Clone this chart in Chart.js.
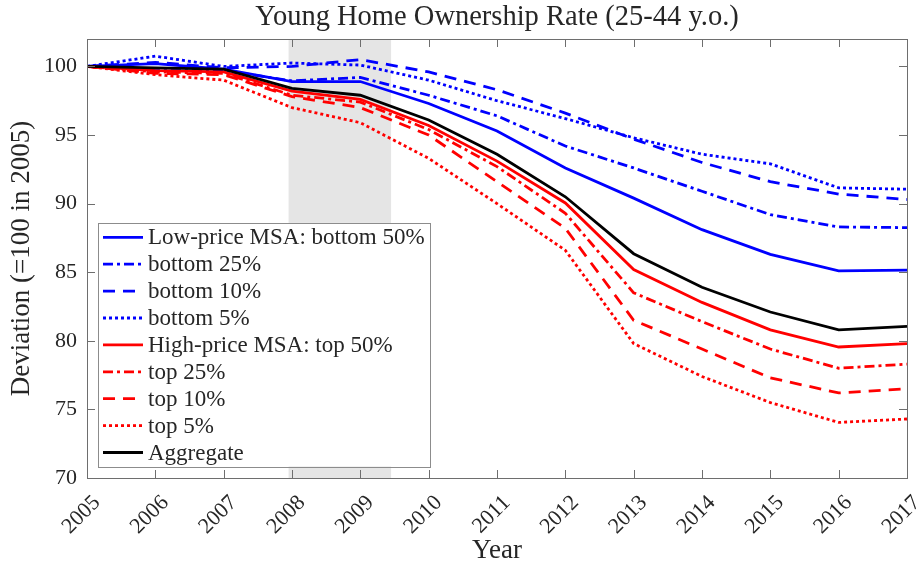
<!DOCTYPE html>
<html>
<head>
<meta charset="utf-8">
<script src="https://cdn.jsdelivr.net/npm/chart.js@4.4.1/dist/chart.umd.min.js"></script>
<style>
  html, body { margin: 0; padding: 0; background: #fff; }
</style>
</head>
<body>
<canvas id="myChart" width="920" height="569"></canvas>
<script>
const years = [2005, 2006, 2007, 2008, 2009, 2010, 2011, 2012, 2013, 2014, 2015, 2016, 2017];
const yTicks = [70, 75, 80, 85, 90, 95, 100];

const bottom50 = [100, 100.2, 99.8, 98.9, 98.9, 97.3, 95.3, 92.6, 90.4, 88.1, 86.3, 85.1, 85.15];
const bottom25 = [100, 99.7, 99.7, 98.95, 99.2, 97.9, 96.4, 94.2, 92.6, 90.9, 89.2, 88.3, 88.25];
const bottom10 = [100, 100.3, 99.9, 100.0, 100.5, 99.6, 98.3, 96.6, 94.7, 93.0, 91.6, 90.7, 90.3];
const bottom5 = [100, 100.75, 100.0, 100.25, 100.1, 99.0, 97.5, 96.2, 94.8, 93.6, 92.9, 91.15, 91.05];
const top50 = [100, 99.7, 99.6, 98.2, 97.6, 95.7, 93.1, 90.05, 85.2, 82.8, 80.8, 79.55, 79.8];
const top25 = [100, 99.6, 99.5, 97.9, 97.4, 95.4, 92.7, 89.3, 83.5, 81.4, 79.4, 78.0, 78.3];
const top10 = [100, 99.5, 99.4, 97.8, 97.0, 95.0, 91.6, 88.2, 81.5, 79.4, 77.3, 76.2, 76.5];
const top5 = [100, 99.4, 99.0, 97.0, 95.9, 93.3, 90.0, 86.6, 79.8, 77.4, 75.5, 74.05, 74.3];
const aggregate = [100, 99.9, 99.8, 98.4, 97.9, 96.1, 93.6, 90.5, 86.35, 83.9, 82.1, 80.8, 81.05];

// recession shading (Dec 2007 - Jun 2009)
const recession = [2007.95, 2009.45];

const FONT = "'Liberation Serif', 'DejaVu Serif', serif";
const TXT = "#262626";
const AX = "#6e6e6e";

const BLUE = "rgb(0, 0, 255)";
const RED = "rgb(255, 0, 0)";
const SOLID = [];
const DASHDOT = [10, 4, 3, 4];
const DASHED = [12, 8];
const DOTTED = [3, 3];

const series = [
  { label: "Low-price MSA: bottom 50%", values: bottom50, color: BLUE, dash: SOLID },
  { label: "bottom 25%", values: bottom25, color: BLUE, dash: DASHDOT },
  { label: "bottom 10%", values: bottom10, color: BLUE, dash: DASHED },
  { label: "bottom 5%", values: bottom5, color: BLUE, dash: DOTTED },
  { label: "High-price MSA: top 50%", values: top50, color: RED, dash: SOLID },
  { label: "top 25%", values: top25, color: RED, dash: DASHDOT },
  { label: "top 10%", values: top10, color: RED, dash: DASHED },
  { label: "top 5%", values: top5, color: RED, dash: DOTTED },
  { label: "Aggregate", values: aggregate, color: "#000", dash: SOLID },
];

const datasets = series.map((s, i) => ({
  label: s.label,
  data: s.values.map((v, j) => ({ x: years[j], y: v })),
  borderColor: s.color,
  backgroundColor: s.color,
  borderDash: s.dash,
  borderWidth: 2.8,
  pointRadius: 0,
  tension: 0,
  order: series.length - i,
}));

const shade = {
  id: "shade",
  beforeDatasetsDraw(chart) {
    const { ctx, chartArea, scales } = chart;
    const x0 = scales.x.getPixelForValue(recession[0]);
    const x1 = scales.x.getPixelForValue(recession[1]);
    ctx.save();
    ctx.fillStyle = "#e5e5e5";
    ctx.fillRect(x0, chartArea.top, x1 - x0, chartArea.bottom - chartArea.top);
    ctx.restore();
  },
};

const frame = {
  id: "frame",
  afterDatasetsDraw(chart) {
    const { ctx, chartArea: a, scales } = chart;
    ctx.save();
    ctx.strokeStyle = AX;
    ctx.lineWidth = 1;
    ctx.beginPath();
    years.forEach((yr) => {
      const x = Math.round(scales.x.getPixelForValue(yr)) + 0.5;
      ctx.moveTo(x, a.bottom); ctx.lineTo(x, a.bottom - 8);
      ctx.moveTo(x, a.top); ctx.lineTo(x, a.top + 8);
    });
    yTicks.forEach((v) => {
      const y = Math.round(scales.y.getPixelForValue(v)) + 0.5;
      ctx.moveTo(a.left, y); ctx.lineTo(a.left + 8, y);
      ctx.moveTo(a.right, y); ctx.lineTo(a.right - 8, y);
    });
    ctx.stroke();
    ctx.strokeRect(Math.round(a.left) + 0.5, Math.round(a.top) + 0.5,
      Math.round(a.right - a.left), Math.round(a.bottom - a.top));

    // legend box
    ctx.font = "23px " + FONT;
    const rowH = 26.9;
    const bx = a.left + 11;
    const bh = rowH * series.length + 1.5;
    const by = a.bottom - 11.5 - bh;
    let tw = 0;
    series.forEach((s) => { tw = Math.max(tw, ctx.measureText(s.label).width); });
    const bw = 50 + tw + 5;
    ctx.fillStyle = "#fff";
    ctx.fillRect(bx, by, bw, bh);
    ctx.strokeStyle = "#8c8c8c";
    ctx.strokeRect(Math.round(bx) + 0.5, Math.round(by) + 0.5, Math.round(bw), Math.round(bh));
    series.forEach((s, i) => {
      const cy = by + 14.4 + i * rowH;
      ctx.strokeStyle = s.color;
      ctx.lineWidth = 2.8;
      ctx.setLineDash(s.dash);
      ctx.beginPath();
      ctx.moveTo(bx + 5, cy);
      ctx.lineTo(bx + 45, cy);
      ctx.stroke();
      ctx.setLineDash([]);
      ctx.fillStyle = TXT;
      ctx.textAlign = "left";
      ctx.textBaseline = "middle";
      ctx.fillText(s.label, bx + 50, cy + 1);
    });

    // title over the plot area
    ctx.font = "28.5px " + FONT;
    ctx.fillStyle = TXT;
    ctx.textAlign = "center";
    ctx.textBaseline = "middle";
    ctx.fillText("Young Home Ownership Rate (25-44 y.o.)", (a.left + a.right) / 2, 18);
    ctx.restore();
  },
};

const config = {
  type: "line",
  data: { datasets: datasets },
  options: {
    responsive: false,
    animation: false,
    layout: { padding: { top: 39, right: 13, left: 0, bottom: 2 } },
    plugins: { legend: { display: false }, tooltip: { enabled: false } },
    scales: {
      x: {
        type: "linear",
        min: 2005,
        max: 2017,
        grid: { display: false },
        border: { display: false },
        afterBuildTicks: (scale) => { scale.ticks = years.map((v) => ({ value: v })); },
        afterFit: (scale) => {
          scale.height = 89;
          scale.paddingLeft = 0;
          scale.paddingRight = 0;
        },
        ticks: {
          color: TXT,
          font: { family: FONT, size: 22 },
          minRotation: 45,
          maxRotation: 45,
          padding: 4,
          labelOffset: 10,
          callback: (v) => String(v),
        },
        title: {
          display: true,
          text: "Year",
          color: TXT,
          font: { family: FONT, size: 27 },
          padding: 0,
        },
      },
      y: {
        min: 70,
        max: 102,
        grid: { display: false },
        border: { display: false },
        afterBuildTicks: (scale) => { scale.ticks = yTicks.map((v) => ({ value: v })); },
        afterFit: (scale) => { scale.width = 87; },
        ticks: {
          color: TXT,
          font: { family: FONT, size: 22 },
          padding: 2,
        },
        title: {
          display: true,
          text: "Deviation (=100 in 2005)",
          color: TXT,
          font: { family: FONT, size: 27 },
          padding: { top: 6, bottom: 0 },
        },
      },
    },
  },
  plugins: [shade, frame],
};

const myChart = new Chart(document.getElementById("myChart"), config);
</script>
</body>
</html>
